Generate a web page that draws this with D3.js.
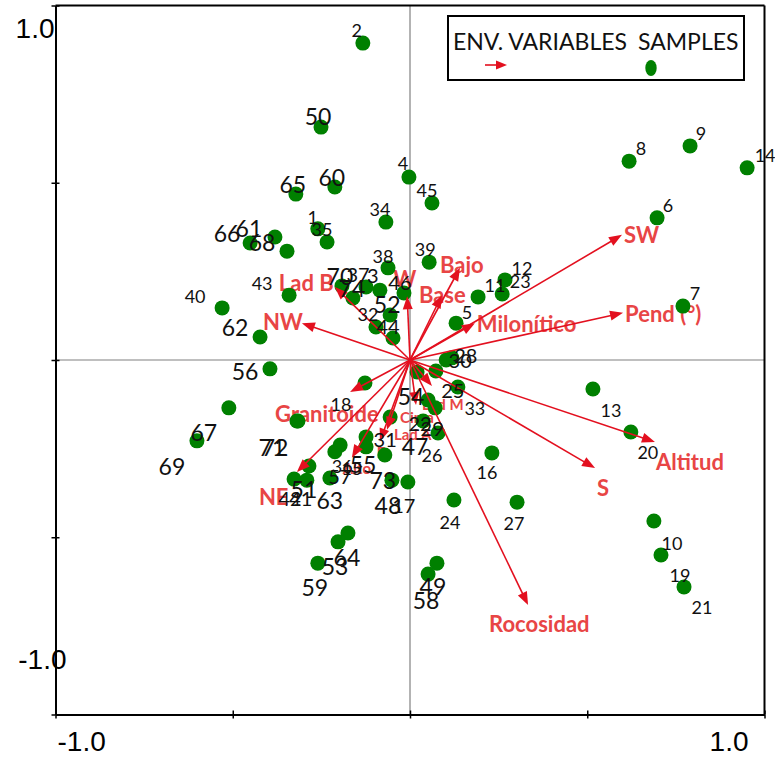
<!DOCTYPE html>
<html>
<head>
<meta charset="utf-8">
<script src="https://cdn.jsdelivr.net/npm/d3@7"></script>
<style>
  html, body { margin: 0; padding: 0; background: #fff; }
  svg { display: block; }
</style>
</head>
<body>
<svg id="chart" width="775" height="758"></svg>
<script>
// Sample scores (axis 1, axis 2)
const sampleIds = [1,2,3,4,5,6,7,8,9,10,11,12,13,14,15,16,17,18,19,20,21,22,23,24,25,26,27,28,29,30,31,32,33,34,35,36,37,38,39,40,41,42,43,44,45,46,47,48,49,50,51,52,53,54,55,56,57,58,59,60,61,62,63,64,65,66,67,68,69,70,71,72,73,74];
const sampleX = [-0.260,-0.133,-0.085,-0.003,0.130,0.697,0.770,0.618,0.790,0.688,0.192,0.268,0.516,0.951,-0.124,0.231,-0.006,-0.127,0.708,0.623,0.773,0.051,0.260,0.124,0.073,0.079,0.302,0.118,0.071,0.102,-0.056,-0.096,0.135,-0.068,-0.234,-0.197,-0.124,-0.062,0.054,-0.530,-0.291,-0.327,-0.341,-0.048,0.062,-0.017,0.037,-0.051,0.076,-0.251,-0.285,-0.056,-0.203,0.020,-0.124,-0.395,-0.212,0.051,-0.260,-0.212,-0.381,-0.423,-0.226,-0.175,-0.322,-0.451,-0.511,-0.347,-0.601,-0.192,-0.319,-0.316,-0.071,-0.161];
const sampleY = [0.370,0.894,0.197,0.516,0.104,0.401,0.152,0.561,0.604,-0.454,0.178,0.226,-0.082,0.542,-0.245,-0.262,-0.344,-0.065,-0.550,-0.203,-0.640,-0.113,0.186,-0.395,-0.031,-0.206,-0.401,0.006,-0.135,0.000,-0.161,0.093,-0.076,0.389,0.333,-0.240,0.206,0.260,0.276,0.147,-0.339,-0.336,0.183,0.062,0.443,0.189,-0.172,-0.339,-0.573,0.657,-0.299,0.127,-0.513,-0.034,-0.217,-0.025,-0.259,-0.604,-0.573,0.488,0.347,0.065,-0.333,-0.488,0.468,0.330,-0.135,0.307,-0.228,0.209,-0.172,-0.172,-0.268,0.175];

// Environmental variable vectors
const envNames = ["SW","Pend (°)","Milonítico","Altitud","S","Rocosidad","Bajo","Base","W","Lad B","NW","Granitoide","NE","Lad M","Cima","Lad A","E","Alto"];
const envX = [0.598,0.601,0.183,0.691,0.522,0.333,0.141,0.090,-0.008,-0.212,-0.305,-0.169,-0.319,0.062,0.017,-0.065,-0.085,-0.164];
const envY = [0.353,0.133,0.104,-0.231,-0.305,-0.691,0.260,0.183,0.180,0.206,0.104,-0.090,-0.316,-0.073,-0.127,-0.197,-0.230,-0.276];

// Axis tick values and the two end labels
const tickValues = [-1,-0.5,0,0.5,1];
const endLabels = ["-1.0","1.0"];

// ---- layout (pixels) ----
// label offsets relative to each sample point: [dx, dy, fontSize]
const L = 23, M = 20, S = 18;
const sampleLabelLayout = {
  1:[-5,-12,S],2:[-6,-13,S],3:[-7,-15,M],4:[-6,-14,S],5:[11,-11,S],6:[11,-13,S],7:[12,-13,S],
  8:[12,-13,S],9:[11,-13,S],10:[18,22,S],11:[17,-12,S],12:[17,-12,S],13:[18,21,S],14:[18,-13,S],
  15:[-14,21,S],16:[-5,19,S],17:[-4,23,M],18:[-24,21,S],19:[19,20,S],20:[17,20,S],21:[18,20,S],
  22:[-8,23,M],23:[18,-13,S],24:[-4,22,S],25:[17,19,M],26:[-6,22,S],27:[-3,21,S],28:[14,-3,M],
  29:[-3,20,M],30:[14,0,M],31:[-5,22,M],32:[-8,-13,S],33:[17,21,S],34:[-6,-13,S],35:[-5,-13,S],
  36:[2,21,S],37:[-8,-13,M],38:[-5,-12,S],39:[-4,-13,S],40:[-27,-12,S],41:[-6,18,M],42:[-4,19,M],
  43:[-27,-12,S],44:[-5,-12,M],45:[-5,-13,S],46:[-4,-11,M],47:[-8,25,L],48:[-4,25,L],49:[-4,23,L],
  50:[-3,-11,L],51:[-5,23,L],52:[-3,-11,L],53:[-3,24,L],54:[-6,24,L],55:[-3,27,L],56:[-25,2,L],
  57:[5,24,M],58:[-2,26,L],59:[-3,24,L],60:[-3,-10,L],61:[-26,-9,L],62:[-25,-10,L],63:[0,22,L],
  64:[-1,24,L],65:[-3,-10,L],66:[-23,-10,L],67:[-25,24,L],68:[-25,-9,L],69:[-25,25,L],70:[-2,-10,L],
  71:[-25,26,L],72:[-23,26,L],73:[-2,25,L],74:[-1,-10,L]
};
// env label offsets from the arrow tip: [dx, dy, fontSize]
const envLabelLayout = {
  "SW":[2,0,22],"Pend (°)":[2,1,22],"Milonítico":[2,0,22],"Altitud":[1,20,22],"S":[2,19,22],
  "Rocosidad":[-39,19,22],"Bajo":[-20,-3,22],"Base":[-23,-1,22],"W":[-14,-18,22],"Lad B":[-56,-4,22],
  "NW":[-39,-2,22],"Granitoide":[-75,22,22],"NE":[-38,24,22],"Lad M":[-10,18,15],"Cima":[-16,12,15],
  "Lad A":[7,4,15],"E":[-3,10,15],"Alto":[-9,10,15]
};

const RED = "#e3101f";
const RED_TEXT = "#e84545";
const GREEN = "#008000";

const svg = d3.select("#chart");
const xs = d3.scaleLinear().domain([-1, 1]).range([55.5, 764.5]);
const ys = d3.scaleLinear().domain([-1, 1]).range([714.5, 5.5]);

// crosshair through the origin
svg.append("line").attr("x1", xs(0)).attr("x2", xs(0)).attr("y1", ys(1)).attr("y2", ys(-1))
  .attr("stroke", "#808080").attr("stroke-width", 1.2);
svg.append("line").attr("x1", xs(-1)).attr("x2", xs(1)).attr("y1", ys(0)).attr("y2", ys(0))
  .attr("stroke", "#808080").attr("stroke-width", 1.2);

// frame: top and right edges
svg.append("line").attr("x1", xs(-1)).attr("x2", xs(1)).attr("y1", ys(1)).attr("y2", ys(1))
  .attr("stroke", "#000").attr("stroke-width", 2);
svg.append("line").attr("x1", xs(1)).attr("x2", xs(1)).attr("y1", ys(1)).attr("y2", ys(-1))
  .attr("stroke", "#000").attr("stroke-width", 2);

// axes with ticks crossing the axis line
function styleAxis(g, keepDomain) {
  g.selectAll("text").remove();
  g.selectAll("line").attr("stroke", "#000").attr("stroke-width", 1.5);
  g.select(".domain").attr("stroke", keepDomain ? "#000" : "none").attr("stroke-width", 2);
}
svg.append("g").attr("transform", `translate(${xs(-1)},0)`)
  .call(d3.axisLeft(ys).tickValues(tickValues).tickSize(4).tickSizeOuter(0).tickFormat(""))
  .call(g => styleAxis(g, true));
svg.append("g").attr("transform", `translate(${xs(-1)},0)`)
  .call(d3.axisRight(ys).tickValues(tickValues).tickSize(4).tickSizeOuter(0).tickFormat(""))
  .call(g => styleAxis(g, false));
svg.append("g").attr("transform", `translate(0,${ys(-1)})`)
  .call(d3.axisBottom(xs).tickValues(tickValues).tickSize(4).tickSizeOuter(0).tickFormat(""))
  .call(g => styleAxis(g, true));
svg.append("g").attr("transform", `translate(0,${ys(-1)})`)
  .call(d3.axisTop(xs).tickValues(tickValues).tickSize(4).tickSizeOuter(0).tickFormat(""))
  .call(g => styleAxis(g, false));

// end labels of the axes
const axisFont = "'Liberation Sans', Arial, sans-serif";
const tickText = (x, y, txt, anchor) => svg.append("text")
  .attr("x", x).attr("y", y).attr("text-anchor", anchor).attr("dominant-baseline", "central")
  .attr("font-family", axisFont).attr("font-size", 28).attr("fill", "#000").text(txt);
tickText(xs(-1) - 1, ys(1) + 23, endLabels[1], "end");
tickText(xs(-1) + 11, ys(-1) - 55, endLabels[0], "end");
tickText(xs(-1) + 2, ys(-1) + 27, endLabels[0], "start");
tickText(xs(1) - 16, ys(-1) + 27, endLabels[1], "end");

const font = "Lato, 'Open Sans', sans-serif";

// env labels (drawn under the points)
const env = envNames.map((n, i) => ({ name: n, x: envX[i], y: envY[i] }));
svg.append("g").selectAll("text").data(env).join("text")
  .attr("x", d => xs(d.x) + envLabelLayout[d.name][0])
  .attr("y", d => ys(d.y) + envLabelLayout[d.name][1])
  .attr("dominant-baseline", "central")
  .attr("font-family", font).attr("font-weight", "bold")
  .attr("font-size", d => envLabelLayout[d.name][2])
  .attr("fill", RED_TEXT).text(d => d.name);

// sample points
const samples = sampleIds.map((id, i) => ({ id, x: sampleX[i], y: sampleY[i] }));
svg.append("g").selectAll("circle").data(samples).join("circle")
  .attr("cx", d => xs(d.x)).attr("cy", d => ys(d.y)).attr("r", 7.5).attr("fill", GREEN);

// arrows for environmental variables
function arrow(g, x0, y0, x1, y1, head = 13, half = 5) {
  const dx = x1 - x0, dy = y1 - y0, len = Math.hypot(dx, dy);
  const ux = dx / len, uy = dy / len;
  const bx = x1 - ux * head, by = y1 - uy * head;
  g.append("line").attr("x1", x0).attr("y1", y0).attr("x2", bx + ux * 2).attr("y2", by + uy * 2)
    .attr("stroke", RED).attr("stroke-width", 1.6);
  g.append("polygon")
    .attr("points", [[x1, y1], [bx - uy * half, by + ux * half], [bx + uy * half, by - ux * half]].map(p => p.join(",")).join(" "))
    .attr("fill", RED);
}
const ag = svg.append("g");
env.forEach(d => arrow(ag, xs(0), ys(0), xs(d.x), ys(d.y)));

// sample labels
svg.append("g").selectAll("text").data(samples).join("text")
  .attr("x", d => xs(d.x) + sampleLabelLayout[d.id][0])
  .attr("y", d => ys(d.y) + sampleLabelLayout[d.id][1])
  .attr("text-anchor", "middle").attr("dominant-baseline", "central")
  .attr("font-family", font).attr("font-size", d => sampleLabelLayout[d.id][2])
  .attr("fill", "#111").text(d => d.id);

// legend
const lg = svg.append("g");
lg.append("rect").attr("x", 448).attr("y", 16).attr("width", 296).attr("height", 64)
  .attr("fill", "#fff").attr("stroke", "#000").attr("stroke-width", 2);
lg.append("text").attr("x", 453).attr("y", 41).attr("dominant-baseline", "central")
  .attr("font-family", font).attr("font-size", 23).attr("fill", "#111").text("ENV. VARIABLES");
lg.append("text").attr("x", 638).attr("y", 41).attr("dominant-baseline", "central")
  .attr("font-family", font).attr("font-size", 23).attr("fill", "#111").text("SAMPLES");
arrow(lg, 485, 65, 507, 65, 11, 4.5);
lg.append("ellipse").attr("cx", 651).attr("cy", 68).attr("rx", 5.7).attr("ry", 8).attr("fill", GREEN);
</script>
</body>
</html>
